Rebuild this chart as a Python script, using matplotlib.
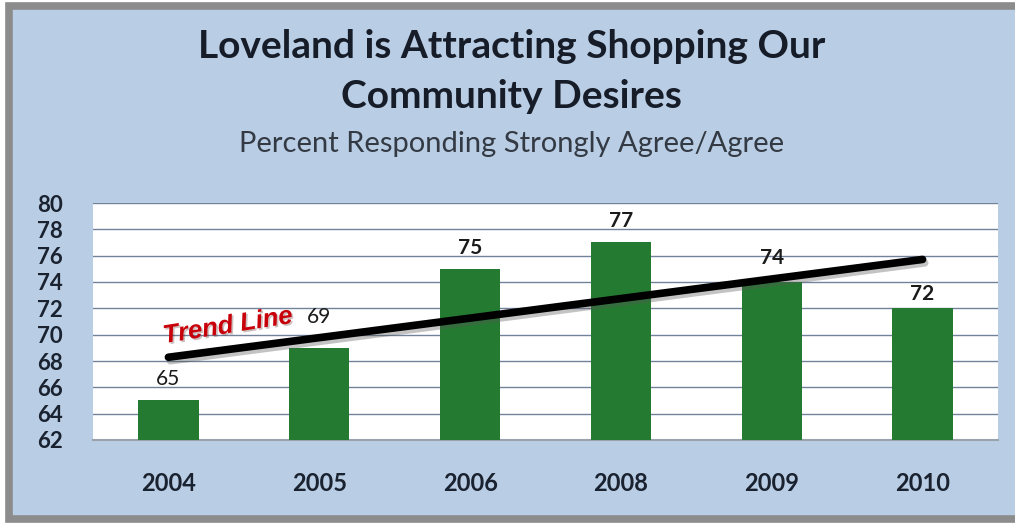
import numpy as np
import matplotlib.pyplot as plt
import matplotlib.patheffects as pe
from matplotlib.patches import Rectangle
from matplotlib.lines import Line2D

years = ["2004", "2005", "2006", "2008", "2009", "2010"]
percent = [65, 69, 75, 77, 74, 72]
label_bold = [False, False, True, True, True, True]
label_nudge = [0, 7, 0, 0, 2, -5]   # extra lift (pt) for some value labels
y_ticks = list(range(62, 81, 2))

plt.rcParams["font.family"] = ["Lato", "DejaVu Sans"]

W, H = 1015, 524
fig = plt.figure(figsize=(W / 100, H / 100), dpi=100)
fig.patch.set_facecolor("white")

# blue panel, grey frame on left/top/bottom
fig.add_artist(Rectangle((9 / W, 6 / H), 1 - 9 / W, 512 / H, transform=fig.transFigure,
                         facecolor="#b9cde4", edgecolor="none", zorder=-5))
frame_x = [1.0, 9 / W, 9 / W, 1.0]
frame_y = [1 - 6 / H, 1 - 6 / H, 5 / H, 5 / H]
fig.add_artist(Line2D(frame_x, frame_y, transform=fig.transFigure, color="#8c8c8c",
                      linewidth=5.5, solid_joinstyle="miter", zorder=-4))

ax = fig.add_axes([93 / W, 1 - 440 / H, 905 / W, 237 / H])
ax.set_zorder(2)
ax.set_facecolor("white")

x = np.arange(len(years))
ax.bar(x, percent, width=0.4, bottom=0, color="#257a32", zorder=3)
ax.set_xlim(-0.5, len(years) - 0.5)
ax.set_ylim(62, 80)
ax.set_yticks(y_ticks, labels=[str(t) for t in y_ticks], fontweight="bold", fontsize=16,
              ha="left")
ax.set_xticks(x, labels=years, fontweight="bold", fontsize=17)
ax.yaxis.grid(True, color="#72829a", linewidth=1.0, zorder=1)
ax.tick_params(axis="both", length=0, colors="#1a2230")
ax.tick_params(axis="x", pad=23)
ax.tick_params(axis="y", pad=40)
for side in ["top", "right", "left"]:
    ax.spines[side].set_visible(False)
ax.spines["bottom"].set_color("#9aa3ad")
ax.spines["bottom"].set_linewidth(1.5)

for xi, v, b, nudge in zip(x, percent, label_bold, label_nudge):
    ax.annotate(str(v), (xi, v), xytext=(0, 8 + nudge), textcoords="offset points",
                ha="center", va="bottom", fontsize=15,
                fontweight="bold" if b else "normal", color="#1b1b1b", zorder=5)

# least-squares trend over the bars
slope, intercept = np.polyfit(x, percent, 1)
ends = np.array([x[0], x[-1]])
ax.plot(ends, intercept + slope * ends, color="black", linewidth=5.5, solid_capstyle="round",
        zorder=4, path_effects=[pe.SimpleLineShadow(offset=(1.5, -2.5), alpha=0.35,
                                                    shadow_color="#555555"),
                                pe.Normal()])

ax.text(0.395, 70.66, "Trend Line", ha="center", va="center", rotation=9,
        fontsize=18.5, fontweight="bold", style="italic", color="#c8000a",
        family=["Liberation Sans", "DejaVu Sans"], zorder=6,
        path_effects=[pe.withSimplePatchShadow(offset=(1.2, -1.2), alpha=0.25)])

fig.text(0.504, 1 - 47 / H, "Loveland is Attracting Shopping Our", ha="center", va="center",
         fontsize=28, fontweight="bold", color="#161c28")
fig.text(0.504, 1 - 97 / H, "Community Desires", ha="center", va="center",
         fontsize=28, fontweight="bold", color="#161c28")
fig.text(0.504, 1 - 144 / H, "Percent Responding Strongly Agree/Agree", ha="center", va="center",
         fontsize=21, color="#333a44")

fig.savefig("out.png", dpi=100, facecolor=fig.get_facecolor())
